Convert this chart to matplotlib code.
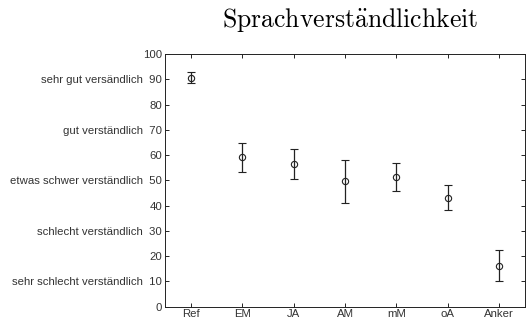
import numpy as np
import matplotlib
matplotlib.use("Agg")
import matplotlib.pyplot as plt

plt.rcParams['font.family'] = ['Liberation Sans', 'DejaVu Sans']
plt.rcParams['mathtext.fontset'] = 'cm'

# conditions and mean ratings with error (half-length of the bar)
conditions = ['Ref', 'EM', 'JA', 'AM', 'mM', 'oA', 'Anker']
means = [90.6, 59.2, 56.5, 49.6, 51.4, 43.2, 16.3]
errors = [2.1, 5.7, 6.0, 8.4, 5.6, 4.8, 6.1]

yticks = [0, 10, 20, 30, 40, 50, 60, 70, 80, 90, 100]
ytick_labels = ['0', 'sehr schlecht verständlich  10', '20',
                'schlecht verständlich  30', '40',
                'etwas schwer verständlich  50', '60',
                'gut verständlich  70', '80',
                'sehr gut versändlich  90', '100']

fig = plt.figure(figsize=(5.26, 3.21), dpi=100)
ax = fig.add_axes([165 / 526, 14.3 / 321, 360 / 526, 252.7 / 321])

x = np.arange(1, len(conditions) + 1)
ax.errorbar(x, means, yerr=errors, fmt='o', color='#222222', mfc='none',
            ms=4.5, mew=0.8, elinewidth=0.9, capsize=3, capthick=0.9)

ax.set_xlim(0.5, len(conditions) + 0.5)
ax.set_ylim(0, 100)
ax.set_xticks(x)
ax.set_xticklabels(conditions)
ax.set_yticks(yticks)
ax.set_yticklabels(ytick_labels)

ax.tick_params(direction='in', length=3, width=0.6, labelsize=8.2,
               labelcolor='#333333', pad=2, top=True, right=True)
for s in ax.spines.values():
    s.set_linewidth(0.7)
    s.set_color('#222222')

fig.text(0.665, 0.937, r'$\mathrm{Sprachverst\ddot{a}ndlichkeit}$',
         ha='center', va='center', fontsize=18.5)

fig.savefig('out.png', dpi=100)
